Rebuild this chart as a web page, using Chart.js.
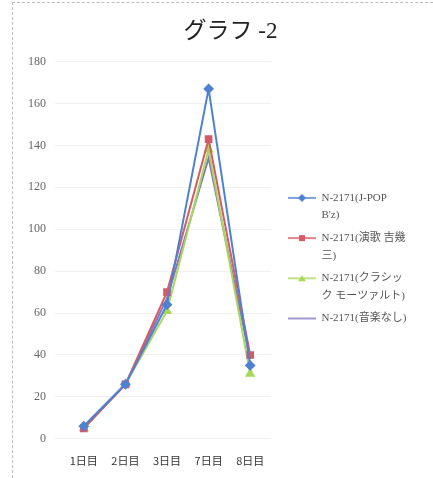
<!DOCTYPE html>
<html>
<head>
<meta charset="utf-8">
<script src="https://cdn.jsdelivr.net/npm/chart.js@4"></script>
<style>
  html,body{margin:0;padding:0;background:#fff;}
  #wrap{position:relative;width:433px;height:478px;overflow:hidden;}
  #frame{position:absolute;left:12px;top:2px;width:440px;height:490px;border-left:1px dashed #bbb;border-top:1px dashed #bbb;}
  canvas{position:absolute;left:0;top:0;}
</style>
</head>
<body>
<div id="wrap">
  <div id="frame"></div>
  <canvas id="myChart" width="433" height="478"></canvas>
</div>
<script>
const days = ['1日目','2日目','3日目','7日目','8日目'];
const names = [['N-2171(J-POP','B\'z)'],['N-2171(演歌 吉幾','三)'],['N-2171(クラシッ','ク モーツァルト)'],['N-2171(音楽なし)']];
const jpop = [6,26,64,167,35];
const enka = [5,26,70,143,40];
const classic = [5,26,61,138,31];
const nomusic = [6,26,67,134,38];
const colors = ['#4f81d0','#d65a66','#a8d85a','#8476c0'];
const markers = ['rectRot','rect','triangle',false];

// legend symbol: short line with the marker in the middle (left part transparent)
function legendIcon(i){
  const c=document.createElement('canvas');
  c.width=40;c.height=10;
  const g=c.getContext('2d');
  g.strokeStyle=colors[i];g.lineWidth=1.5;
  g.beginPath();g.moveTo(12,5);g.lineTo(40,5);g.stroke();
  g.fillStyle=colors[i];
  if(markers[i]=='rectRot'){g.beginPath();g.moveTo(26,1);g.lineTo(30,5);g.lineTo(26,9);g.lineTo(22,5);g.closePath();g.fill();}
  if(markers[i]=='rect'){g.fillRect(23,2,6,6);}
  if(markers[i]=='triangle'){g.beginPath();g.moveTo(26,2);g.lineTo(30,8);g.lineTo(22,8);g.closePath();g.fill();}
  return c;
}

function shiftDraw(box,ctx,dx,dy){
  const draw=box.draw.bind(box);
  box.draw=function(){ctx.save();ctx.translate(dx,dy);draw();ctx.restore();};
}

// fixed legend column width, legend a bit lower, title a bit right
const boxTweak={
  id:'boxTweak',
  afterInit(chart){
    const lg=chart.legend;
    const fit=lg.fit.bind(lg);
    lg.fit=function(){fit();this.width=159;};
    shiftDraw(lg,chart.ctx,0,15);
    shiftDraw(chart.titleBlock,chart.ctx,6,0);
  }
};

const series=[jpop,enka,classic,nomusic];
const ctx=document.getElementById('myChart').getContext('2d');
const myChart=new Chart(ctx,{
  type:'line',
  data:{
    labels:days,
    datasets:series.map((s,i)=>({
      label:names[i].join(''),
      data:s,
      borderColor:colors[i],
      backgroundColor:colors[i],
      borderWidth:2,
      pointStyle:markers[i],
      pointRadius:markers[i]?4:0,
      tension:0
    }))
  },
  plugins:[boxTweak],
  options:{
    responsive:false,
    animation:false,
    layout:{padding:{left:19,right:3,top:11,bottom:-4}},
    plugins:{
      title:{display:true,text:'グラフ -2',color:'#222',
        font:{family:'"Liberation Serif","Noto Sans CJK JP",serif',size:23,weight:'normal'},
        padding:{top:7,bottom:16}},
      legend:{
        position:'right',
        labels:{
          color:'#555',
          font:{family:'"Liberation Serif","Noto Sans CJK JP",serif',size:11,lineHeight:1.6},
          usePointStyle:true,
          pointStyleWidth:40,
          padding:5,
          generateLabels:function(chart){
            return names.map((n,i)=>({
              text:n,
              fillStyle:colors[i],
              strokeStyle:colors[i],
              pointStyle:legendIcon(i),
              datasetIndex:i,
              fontColor:'#555'
            }));
          }
        }
      },
      tooltip:{enabled:false}
    },
    scales:{
      x:{
        offset:true,
        grid:{display:false,drawTicks:false},
        border:{display:false},
        ticks:{color:'#333',font:{family:'"Noto Sans CJK JP",serif',size:11},padding:15,maxRotation:0,minRotation:0,autoSkip:false}
      },
      y:{
        min:0,max:180,
        ticks:{stepSize:20,color:'#666',font:{family:'"Liberation Serif",serif',size:12},padding:9},
        grid:{color:'#f1f1f1'},
        border:{display:false}
      }
    }
  }
});
</script>
</body>
</html>
